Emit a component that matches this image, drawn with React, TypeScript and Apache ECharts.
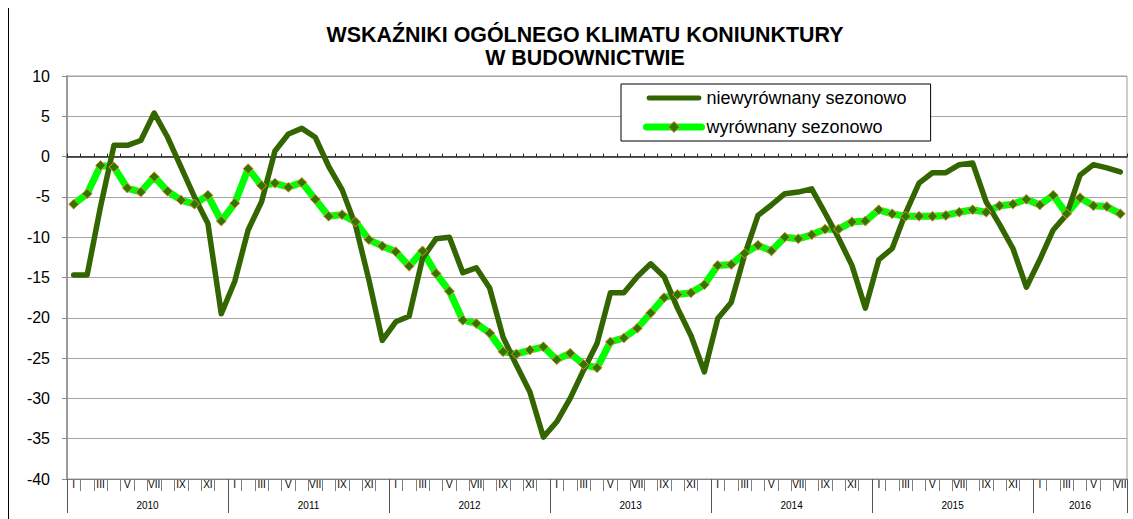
import React, { useEffect, useRef } from 'react';
import * as echarts from 'echarts';

const FONT = '"Liberation Sans", Arial, sans-serif';

const titleLines = ['WSKAŹNIKI OGÓLNEGO KLIMATU KONIUNKTURY', 'W BUDOWNICTWIE'];
const seriesNames = ['niewyrównany sezonowo', 'wyrównany sezonowo'];
const monthNames = ['I', 'II', 'III', 'IV', 'V', 'VI', 'VII', 'VIII', 'IX', 'X', 'XI', 'XII'];
const years = ['2010', '2011', '2012', '2013', '2014', '2015', '2016'];
const monthsPerYear = [12, 12, 12, 12, 12, 12, 7];

const yMin = -40;
const yMax = 10;
const yStep = 5;

// niewyrównany sezonowo (not seasonally adjusted)
const unadjusted = [
  -14.7, -14.7, -6.2, 1.4, 1.4, 2.0, 5.4, 2.4, -1.3, -5.0, -8.3, -19.5,
  -15.5, -9.1, -5.6, 0.7, 2.8, 3.5, 2.4, -1.2, -4.1, -8.5, -15.3, -22.8,
  -20.5, -19.8, -12.6, -10.2, -10.0, -14.4, -13.8, -16.3, -22.4, -25.9, -29.2, -34.8,
  -32.9, -30.0, -26.5, -23.2, -16.9, -16.9, -14.9, -13.3, -14.9, -18.8, -22.2, -26.7,
  -20.1, -18.1, -12.2, -7.3, -6.0, -4.6, -4.4, -4.0, -7.0, -10.1, -13.5, -18.8,
  -12.8, -11.4, -7.0, -3.3, -2.0, -2.0, -1.0, -0.8, -5.6, -8.4, -11.4, -16.2,
  -12.8, -9.1, -7.2, -2.3, -1.0, -1.4, -1.9,
];

// wyrównany sezonowo (seasonally adjusted)
const adjusted = [
  -5.9, -4.6, -1.1, -1.3, -3.9, -4.4, -2.5, -4.3, -5.4, -5.9, -4.8, -8.0,
  -5.8, -1.5, -3.6, -3.3, -3.8, -3.2, -5.3, -7.4, -7.2, -8.1, -10.3, -11.1,
  -11.8, -13.6, -11.7, -14.5, -16.7, -20.3, -20.7, -21.9, -24.2, -24.5, -24.0, -23.6,
  -25.2, -24.4, -25.8, -26.2, -23.0, -22.5, -21.3, -19.4, -17.5, -17.1, -16.9, -15.9,
  -13.5, -13.4, -12.0, -11.0, -11.7, -10.0, -10.2, -9.7, -9.0, -9.0, -8.1, -8.0,
  -6.6, -7.1, -7.4, -7.4, -7.4, -7.3, -6.9, -6.6, -6.9, -6.1, -5.9, -5.3,
  -6.0, -4.8, -7.1, -5.1, -6.1, -6.2, -7.1,
];

const monthCategories: string[] = [];
const yearCategories: string[] = [];
const yearStarts = new Set<number>();
const yearLabelAt = new Map<number, boolean>(); // index -> shift half band left
{
  let start = 0;
  years.forEach((y, k) => {
    const n = monthsPerYear[k];
    yearStarts.add(start);
    yearLabelAt.set(start + Math.floor(n / 2), n % 2 === 0);
    for (let m = 0; m < n; m++) {
      monthCategories.push(monthNames[m]);
      yearCategories.push(y);
    }
    start += n;
  });
}

const LIGHT = '#00ff00';
const DARK = '#336600';
const MARKER_FILL = '#2a7a00';
const MARKER_BORDER = '#f5883c';

export default function App() {
  const ref = useRef<HTMLDivElement>(null);

  useEffect(() => {
    if (!ref.current) return;
    const chart = echarts.init(ref.current, undefined, { renderer: 'svg' });

    const option: any = {
      animation: false,
      backgroundColor: '#ffffff',
      textStyle: { fontFamily: FONT },
      grid: {
        left: 67,
        right: 6,
        top: 76,
        bottom: 40,
        show: true,
        borderColor: '#9a9a9a',
        borderWidth: 1,
      },
      graphic: [
        {
          type: 'line',
          shape: { x1: 8.5, y1: 8, x2: 8.5, y2: 519 },
          style: { stroke: '#000', lineWidth: 1 },
          silent: true,
        },
        {
          type: 'text',
          x: 585,
          y: 35,
          style: {
            text: titleLines[0],
            fill: '#000',
            font: `bold 21.4px ${FONT}`,
            align: 'center',
            verticalAlign: 'middle',
          },
        },
        {
          type: 'text',
          x: 585,
          y: 58,
          style: {
            text: titleLines[1],
            fill: '#000',
            font: `bold 21.4px ${FONT}`,
            align: 'center',
            verticalAlign: 'middle',
          },
        },
      ],
      legend: {
        orient: 'vertical',
        left: 621,
        top: 84,
        backgroundColor: '#ffffff',
        borderColor: '#000',
        borderWidth: 1,
        borderRadius: 0,
        padding: [5, 24, 5, 22],
        itemWidth: 55,
        itemHeight: 14,
        itemGap: 11,
        textStyle: { fontFamily: FONT, fontSize: 18, color: '#000' },
        data: [
          {
            name: seriesNames[0],
            icon: 'path://M2,0 L53,0 A2.5,2.5 0 0 1 53,5 L2,5 A2.5,2.5 0 0 1 2,0 Z',
            itemStyle: { color: DARK },
          },
          {
            name: seriesNames[1],
            lineStyle: { color: LIGHT, width: 7, cap: 'round' },
            itemStyle: { color: MARKER_FILL, borderColor: MARKER_BORDER, borderWidth: 1 },
          },
        ],
      },
      xAxis: [
        {
          type: 'category',
          data: monthCategories,
          boundaryGap: true,
          axisLine: { show: true, onZero: true, lineStyle: { color: '#222', width: 1.5 } },
          axisTick: { show: true, inside: true, length: 3, interval: 0, lineStyle: { color: '#222' } },
          axisLabel: { show: false },
          splitLine: { show: false },
        },
        {
          type: 'category',
          data: monthCategories,
          position: 'bottom',
          boundaryGap: true,
          axisLine: { show: true, onZero: false, lineStyle: { color: '#7f7f7f', width: 1 } },
          axisTick: { show: true, interval: 0, length: 12, lineStyle: { color: '#7f7f7f' } },
          axisLabel: {
            interval: 1,
            margin: 0,
            fontSize: 10,
            lineHeight: 10,
            color: '#000',
            fontFamily: FONT,
          },
          splitLine: { show: false },
        },
        {
          type: 'category',
          data: yearCategories,
          position: 'bottom',
          boundaryGap: true,
          axisLine: { show: false, onZero: false },
          axisTick: {
            show: true,
            interval: (index: number) => yearStarts.has(index),
            length: 34,
            lineStyle: { color: '#555' },
          },
          axisLabel: {
            interval: (index: number) => yearLabelAt.has(index),
            margin: 21,
            fontSize: 10,
            lineHeight: 10,
            color: '#000',
            fontFamily: FONT,
            formatter: (value: string, index: number) =>
              yearLabelAt.get(index) ? `{s|${value}}` : `{c|${value}}`,
            rich: {
              s: { padding: [0, 13.4, 0, 0], fontSize: 10, fontFamily: FONT, color: '#000' },
              c: { fontSize: 10, fontFamily: FONT, color: '#000' },
            },
          },
          splitLine: { show: false },
        },
      ],
      yAxis: {
        type: 'value',
        min: yMin,
        max: yMax,
        interval: yStep,
        axisLine: { show: true, lineStyle: { color: '#8a8a8a', width: 1.5 } },
        axisTick: { show: true, length: 5, lineStyle: { color: '#8a8a8a' } },
        axisLabel: { fontSize: 16, color: '#000', margin: 17, fontFamily: FONT },
        splitLine: { show: true, lineStyle: { color: '#a6a6a6', width: 1 } },
      },
      series: [
        {
          name: seriesNames[1],
          type: 'line',
          xAxisIndex: 1,
          data: adjusted,
          showSymbol: false,
          symbol: 'diamond',
          symbolSize: 10,
          lineStyle: { color: LIGHT, width: 7 },
          itemStyle: { color: MARKER_FILL, borderColor: MARKER_BORDER, borderWidth: 1 },
          z: 2,
          silent: true,
        },
        {
          name: seriesNames[0],
          type: 'line',
          xAxisIndex: 1,
          data: unadjusted,
          showSymbol: false,
          symbol: 'none',
          lineStyle: { color: DARK, width: 5.5, cap: 'round', join: 'round' },
          itemStyle: { color: DARK },
          z: 3,
          silent: true,
        },
        {
          name: seriesNames[1],
          type: 'scatter',
          xAxisIndex: 1,
          data: adjusted,
          symbol: 'diamond',
          symbolSize: 10,
          itemStyle: { color: MARKER_FILL, borderColor: MARKER_BORDER, borderWidth: 1, opacity: 1 },
          z: 4,
          silent: true,
        },
      ],
    };

    chart.setOption(option);
    return () => chart.dispose();
  }, []);

  return (
    <div
      ref={ref}
      style={{ position: 'absolute', left: 0, top: 0, width: 1133, height: 519 }}
    />
  );
}
